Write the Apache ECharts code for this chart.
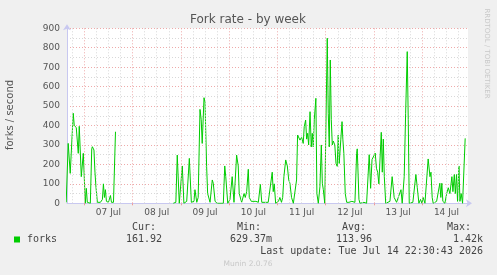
<!DOCTYPE html>
<html><head><meta charset="utf-8">
<script src="https://cdn.jsdelivr.net/npm/echarts@6/dist/echarts.min.js"></script>
<style>html,body{margin:0;padding:0;background:#f0f0f0}#c{width:497px;height:275px}</style>
</head><body><div id="c"></div>
<script>
// hours since 07 Jul 00:00
const hours = [-9,-8,-7,-5.5,-5,-4,-3.5,-3,-2.5,-1.5,-0.5,0.5,1,1.5,2,3,3.7,4,4.8,5.3,5.8,6.5,7,8,9,9.5,10,10.5,11,12,13,13.5,14.5,15.5,16,
44.2,45.5,46.2,47.2,48,48.7,49.5,50.9,52.2,53.2,54.5,55,55.9,56.6,57.5,58.1,58.6,59.5,60,60.8,61.3,62.5,63.6,64.1,65,66,69.1,69.8,70.3,71.3,72.4,73.5,74.4,75,75.7,76.5,77,78.2,79.4,80,80.7,81.5,82,83,85.3,86.5,87.5,88.2,89,91.4,93.4,93.9,94.4,95.1,96.5,97.2,98,98.6,99.2,100.1,100.9,101.6,102.2,103,103.9,104.8,105.5,106,106.5,107.2,108,108.8,109.3,110,110.5,111,111.5,112.2,112.8,113.3,113.8,114.3,115.1,115.6,116.3,117.1,117.8,118.3,118.8,119.5,120.1,120.75,121.25,121.75,122.25,122.75,123.25,123.75,124.5,125.1,125.7,126.2,126.7,127.5,128.1,128.5,129,129.7,130.4,131.5,133,134.5,135.35,135.65,136.5,137,139,140.3,141.6,142.3,143,143.6,144.6,145.2,145.8,146.4,147.3,147.6,148.1,148.6,149.1,149.8,151.9,153,154,155.2,156,157.4,158,159,159.7,160.5,161,161.5,163.3,164.8,165.5,166.3,167.1,167.8,168.4,169.3,170.9,171.8,172.3,172.9,173.4,175.1,176.7,177.2,177.7,178.2,179.2,180.1,180.9,181.7,182.7,183.2,183.9,184.4,185,185.5,186.2,186.7,187.3,188,188.7,189.3];
const forks = [5,308,154,463,400,390,396,257,396,137,257,0,77,5,0,0,280,291,274,160,83,5,10,5,20,100,30,70,10,5,40,5,5,368,null,
0,5,248,0,5,192,0,10,231,5,10,70,5,30,483,430,308,543,520,189,50,5,120,103,10,0,0,192,137,0,20,137,5,10,248,192,50,5,50,30,60,175,30,10,10,5,97,5,5,5,160,60,100,0,10,30,5,30,137,223,192,120,103,30,0,0,120,351,345,325,340,308,394,428,330,360,300,471,290,360,290,430,540,50,0,85,300,103,70,0,10,849,463,290,737,430,300,320,300,205,190,350,205,330,420,330,257,50,5,5,10,5,257,280,20,0,5,0,250,77,225,230,258,180,160,100,300,365,160,330,137,0,10,137,30,5,5,70,0,137,463,780,430,0,5,148,80,0,20,0,30,0,228,137,160,30,0,10,103,30,103,10,0,50,80,50,137,60,148,50,148,10,192,10,50,0,0,334];
const dayStarts = [0,24,48,72,96,120,144,168];
const dayLabels = ['07 Jul','08 Jul','09 Jul','10 Jul','11 Jul','12 Jul','13 Jul','14 Jul'];
const minorHours = [-6,6,12,18,30,36,42,54,60,66,78,84,90,102,108,114,126,132,138,150,156,162,174,180,186];
const statNames = ['Cur:','Min:','Avg:','Max:'];
const statValues = ['161.92','629.37m','113.96','1.42k'];
const seriesName = 'forks';

const labelMap = {};
dayStarts.forEach((d,i)=>{labelMap[d+12]=dayLabels[i];});

const chart = echarts.init(document.getElementById('c'), null, {renderer:'canvas'});
const mono = '10px "DejaVu Sans Mono"';
const statX = [132,237,342,447];
const valX = [126,230,336,453];
const graphics = [
  {type:'text', x:248, y:19.5, style:{text:'Fork rate - by week', font:'12px "DejaVu Sans"', fill:'#555', align:'center', verticalAlign:'middle'}},
  {type:'text', x:10.5, y:115, rotation:Math.PI/2, style:{text:'forks / second', font:'10px "DejaVu Sans"', fill:'#555', align:'center', verticalAlign:'middle'}},
  {type:'text', x:487, y:53.5, rotation:-Math.PI/2, style:{text:'RRDTOOL / TOBI OETIKER', font:'7px "DejaVu Sans"', fill:'#c8c8c8', align:'center', verticalAlign:'middle'}},
  {type:'rect', shape:{x:14, y:236.5, width:6, height:6}, style:{fill:'#00cc00'}},
  {type:'text', x:27, y:239.7, style:{text:seriesName, font:mono, fill:'#444', align:'left', verticalAlign:'middle'}},
  {type:'text', x:483, y:251.7, style:{text:'Last update: Tue Jul 14 22:30:43 2026', font:mono, fill:'#444', align:'right', verticalAlign:'middle'}},
  {type:'text', x:248, y:264, style:{text:'Munin 2.0.76', font:'7.5px "DejaVu Sans"', fill:'#c8c8c8', align:'center', verticalAlign:'middle'}}
];
statNames.forEach((s,i)=>graphics.push({type:'text', x:statX[i], y:227, style:{text:s, font:mono, fill:'#444', align:'left', verticalAlign:'middle'}}));
statValues.forEach((s,i)=>graphics.push({type:'text', x:valX[i], y:239.7, style:{text:s, font:mono, fill:'#444', align:'left', verticalAlign:'middle'}}));

const gridLines = [];
minorHours.forEach(h=>gridLines.push({xAxis:h, lineStyle:{color:'#d8d8d8', type:[1,2], width:1}}));
dayStarts.forEach(h=>gridLines.push({xAxis:h, lineStyle:{color:'#eeaaaa', type:[1,2], width:1}}));

chart.setOption({
  animation:false,
  backgroundColor:'#f0f0f0',
  graphic:graphics,
  grid:{left:67, top:28.3, right:29, bottom:71.7, show:true, backgroundColor:'#ffffff', borderWidth:0},
  xAxis:{type:'value', min:-8.6, max:190.7,
    axisLine:{show:true, onZero:false, lineStyle:{color:'#c8c8f0', width:1}, symbol:['none','arrow'], symbolSize:[6,6], symbolOffset:[0,4]},
    axisTick:{show:true, customValues:dayStarts, length:2, lineStyle:{color:'#ee9999'}},
    axisLabel:{customValues:dayStarts.map(d=>d+12), formatter:v=>labelMap[v]||'', fontSize:9, fontFamily:'DejaVu Sans', color:'#555', margin:5},
    splitLine:{show:false}},
  yAxis:{type:'value', min:0, max:900, interval:100,
    axisLine:{show:true, onZero:false, lineStyle:{color:'#c8c8f0', width:1}, symbol:['none','arrow'], symbolSize:[6,6], symbolOffset:[0,4]},
    axisTick:{show:false},
    axisLabel:{fontSize:9, fontFamily:'DejaVu Sans', color:'#555', margin:7},
    splitLine:{show:true, lineStyle:{color:'#eeaaaa', type:[1,2], width:1}},
    minorTick:{show:false, splitNumber:2},
    minorSplitLine:{show:true, lineStyle:{color:'#d8d8d8', type:[1,2], width:1}}},
  series:[
    {type:'line', data:[], z:1, silent:true, markLine:{silent:true, symbol:'none', label:{show:false}, animation:false, data:gridLines}},
    {type:'line', name:seriesName, z:3, data:hours.map((h,i)=>[h,forks[i]]), showSymbol:false, connectNulls:false,
     lineStyle:{color:'#00cc00', width:1}, itemStyle:{color:'#00cc00'}}
  ]
});
</script></body></html>
